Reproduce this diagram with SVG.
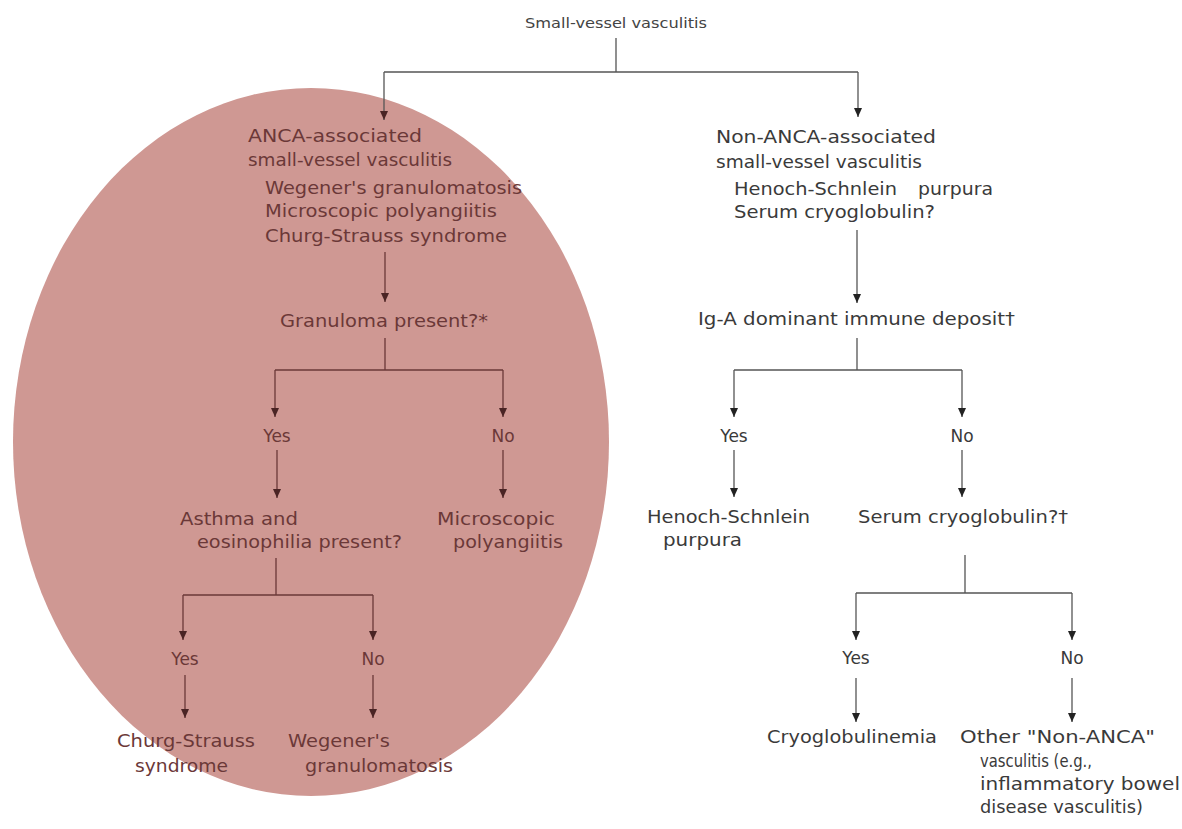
<svg xmlns="http://www.w3.org/2000/svg" width="1182" height="829" viewBox="0 0 1182 829">
<style>
  .t { font-family: "DejaVu Sans", "Liberation Sans", sans-serif; font-size: 17px; }
  .in { fill: #6b3838; }
  .out { fill: #3a3a3a; }
  .title { font-family: "DejaVu Sans", "Liberation Sans", sans-serif; font-size: 14px; fill: #444; }
  .lo { fill: none; stroke: #555; stroke-width: 1.3; }
  .li { fill: none; stroke: #6b3838; stroke-width: 1.3; }
  .ao { marker-end: url(#ahO); }
  .ai { marker-end: url(#ahI); }
</style>
<defs>
  <marker id="ahO" viewBox="0 0 9 8" refX="9" refY="4" markerWidth="9" markerHeight="8" markerUnits="userSpaceOnUse" orient="auto">
    <path d="M0,0 L9,4 L0,8 z" fill="#222"/>
  </marker>
  <marker id="ahI" viewBox="0 0 9 8" refX="9" refY="4" markerWidth="9" markerHeight="8" markerUnits="userSpaceOnUse" orient="auto">
    <path d="M0,0 L9,4 L0,8 z" fill="#4a2424"/>
  </marker>
</defs>
<rect width="1182" height="829" fill="#ffffff"/>
<ellipse id="anca-region" cx="311" cy="442" rx="298" ry="354" fill="#cf9893"/>

<g id="connectors">
  <path class="lo" d="M616,38 V72 M384,72 H858"/>
  <path class="lo ao" d="M858,72 V117"/>
  <path class="lo ai" d="M384,72 V120"/>
  <path class="li ai" d="M385,252 V302"/>
  <path class="li" d="M385,338 V370 M275,370 H503"/>
  <path class="li ai" d="M275,370 V417"/>
  <path class="li ai" d="M503,370 V417"/>
  <path class="li ai" d="M277,450 V498"/>
  <path class="li ai" d="M503,450 V498"/>
  <path class="li" d="M276,558 V595 M183,595 H373"/>
  <path class="li ai" d="M183,595 V640"/>
  <path class="li ai" d="M373,595 V640"/>
  <path class="li ai" d="M185,675 V718"/>
  <path class="li ai" d="M373,675 V718"/>
  <path class="lo ao" d="M857,230 V303"/>
  <path class="lo" d="M857,338 V370 M734,370 H962"/>
  <path class="lo ao" d="M734,370 V417"/>
  <path class="lo ao" d="M962,370 V417"/>
  <path class="lo ao" d="M734,450 V497"/>
  <path class="lo ao" d="M962,450 V497"/>
  <path class="lo" d="M965,555 V593 M856,593 H1072"/>
  <path class="lo ao" d="M856,593 V640"/>
  <path class="lo ao" d="M1072,593 V640"/>
  <path class="lo ao" d="M856,678 V722"/>
  <path class="lo ao" d="M1072,678 V722"/>
</g>

<g id="n-root"><text class="title" x="525" y="28" textLength="182" lengthAdjust="spacingAndGlyphs">Small-vessel vasculitis</text></g>

<g id="n-anca">
  <text class="t in" x="248" y="142" textLength="174" lengthAdjust="spacingAndGlyphs">ANCA-associated</text>
  <text class="t in" x="248" y="166" textLength="204" lengthAdjust="spacingAndGlyphs">small-vessel vasculitis</text>
  <text class="t in" x="265" y="194" textLength="257" lengthAdjust="spacingAndGlyphs">Wegener's granulomatosis</text>
  <text class="t in" x="265" y="217" textLength="232" lengthAdjust="spacingAndGlyphs">Microscopic polyangiitis</text>
  <text class="t in" x="265" y="242" textLength="242" lengthAdjust="spacingAndGlyphs">Churg-Strauss syndrome</text>
</g>
<g id="n-granuloma"><text class="t in" x="280" y="327" textLength="208" lengthAdjust="spacingAndGlyphs">Granuloma present?*</text></g>
<g id="n-gyes"><text class="t in" x="277" y="442" text-anchor="middle">Yes</text></g>
<g id="n-gno"><text class="t in" x="503" y="442" text-anchor="middle">No</text></g>
<g id="n-asthma">
  <text class="t in" x="180" y="525" textLength="118" lengthAdjust="spacingAndGlyphs">Asthma and</text>
  <text class="t in" x="197" y="548" textLength="205" lengthAdjust="spacingAndGlyphs">eosinophilia present?</text>
</g>
<g id="n-mpa">
  <text class="t in" x="437" y="525" textLength="118" lengthAdjust="spacingAndGlyphs">Microscopic</text>
  <text class="t in" x="453" y="548" textLength="110" lengthAdjust="spacingAndGlyphs">polyangiitis</text>
</g>
<g id="n-ayes"><text class="t in" x="185" y="665" text-anchor="middle">Yes</text></g>
<g id="n-ano"><text class="t in" x="373" y="665" text-anchor="middle">No</text></g>
<g id="n-css">
  <text class="t in" x="117" y="747" textLength="138" lengthAdjust="spacingAndGlyphs">Churg-Strauss</text>
  <text class="t in" x="135" y="772" textLength="93" lengthAdjust="spacingAndGlyphs">syndrome</text>
</g>
<g id="n-wg">
  <text class="t in" x="288" y="747" textLength="102" lengthAdjust="spacingAndGlyphs">Wegener's</text>
  <text class="t in" x="305" y="772" textLength="148" lengthAdjust="spacingAndGlyphs">granulomatosis</text>
</g>

<g id="n-nonanca">
  <text class="t out" x="716" y="143" textLength="220" lengthAdjust="spacingAndGlyphs">Non-ANCA-associated</text>
  <text class="t out" x="716" y="168" textLength="206" lengthAdjust="spacingAndGlyphs">small-vessel vasculitis</text>
  <text class="t out" y="195"><tspan x="734" textLength="163" lengthAdjust="spacingAndGlyphs">Henoch-Schnlein</tspan><tspan x="918" textLength="75" lengthAdjust="spacingAndGlyphs">purpura</tspan></text>
  <text class="t out" x="734" y="218" textLength="201" lengthAdjust="spacingAndGlyphs">Serum cryoglobulin?</text>
</g>
<g id="n-iga"><text class="t out" x="698" y="325" textLength="317" lengthAdjust="spacingAndGlyphs">Ig-A dominant immune deposit†</text></g>
<g id="n-iyes"><text class="t out" x="734" y="442" text-anchor="middle">Yes</text></g>
<g id="n-ino"><text class="t out" x="962" y="442" text-anchor="middle">No</text></g>
<g id="n-hsp">
  <text class="t out" x="647" y="523" textLength="163" lengthAdjust="spacingAndGlyphs">Henoch-Schnlein</text>
  <text class="t out" x="663" y="546" textLength="79" lengthAdjust="spacingAndGlyphs">purpura</text>
</g>
<g id="n-serum"><text class="t out" x="858" y="523" textLength="210" lengthAdjust="spacingAndGlyphs">Serum cryoglobulin?†</text></g>
<g id="n-syes"><text class="t out" x="856" y="664" text-anchor="middle">Yes</text></g>
<g id="n-sno"><text class="t out" x="1072" y="664" text-anchor="middle">No</text></g>
<g id="n-cryo"><text class="t out" x="767" y="743" textLength="170" lengthAdjust="spacingAndGlyphs">Cryoglobulinemia</text></g>
<g id="n-other">
  <text class="t out" x="960" y="743" textLength="195" lengthAdjust="spacingAndGlyphs">Other "Non-ANCA"</text>
  <text class="t out" x="980" y="767" textLength="112" lengthAdjust="spacingAndGlyphs">vasculitis (e.g.,</text>
  <text class="t out" x="980" y="790" textLength="200" lengthAdjust="spacingAndGlyphs">inflammatory bowel</text>
  <text class="t out" x="980" y="813" textLength="163" lengthAdjust="spacingAndGlyphs">disease vasculitis)</text>
</g>
</svg>
